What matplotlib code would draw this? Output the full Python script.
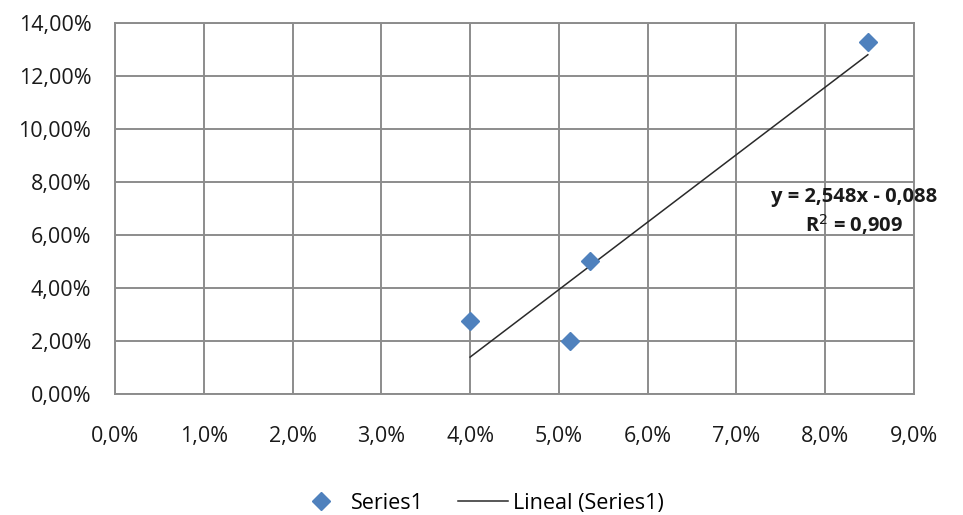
import numpy as np
import matplotlib.pyplot as plt
from matplotlib.ticker import FuncFormatter

# data (fractions)
x_vals = [0.0400, 0.0512, 0.0535, 0.0848]
y_vals = [0.0275, 0.0200, 0.0502, 0.1328]
slope = 2.548
intercept = -0.088
eq_label = 'y = 2,548x - 0,088\nR$^{2}$ = 0,909'
series_name = 'Series1'
trend_name = 'Lineal (Series1)'


def main():
    plt.rcParams['font.family'] = ['Open Sans', 'DejaVu Sans']
    fig = plt.figure(figsize=(9.63, 5.15), dpi=100)
    ax = fig.add_axes([0.1194, 0.235, 0.8297, 0.720])

    ax.plot(x_vals, y_vals, linestyle='none', marker='D', markersize=9.5,
            color='#4f81bd', label=series_name, zorder=3)
    xs = np.array([min(x_vals), max(x_vals)])
    ax.plot(xs, slope * xs + intercept, color='#2a2a2a', linewidth=1.1,
            label=trend_name, zorder=2)

    ax.set_xlim(0, 0.09)
    ax.set_ylim(0, 0.14)
    ax.set_xticks(np.arange(0, 0.0901, 0.01))
    ax.set_yticks(np.arange(0, 0.1401, 0.02))
    ax.xaxis.set_major_formatter(FuncFormatter(lambda v, p: f'{v * 100:.1f}%'.replace('.', ',')))
    ax.yaxis.set_major_formatter(FuncFormatter(lambda v, p: f'{v * 100:.2f}%'.replace('.', ',')))
    ax.tick_params(length=0, labelsize=15.5, colors='#1a1a1a')
    ax.tick_params(axis='x', pad=23)
    ax.tick_params(axis='y', pad=17)
    ax.grid(True, color='#8c8c8c', linewidth=1.4)
    ax.set_axisbelow(True)
    for s in ax.spines.values():
        s.set_color('#8c8c8c')
        s.set_linewidth(1.4)

    ax.text(0.925, 0.49, eq_label, transform=ax.transAxes, ha='center', va='center',
            multialignment='center', fontsize=14.5, fontweight='bold',
            color='#1a1a1a', clip_on=False, linespacing=1.25)

    fig.legend(loc='center', bbox_to_anchor=(0.4985, 0.023), ncol=2, frameon=False,
               fontsize=15.5, handlelength=2.3, columnspacing=1.6, handletextpad=0.25)

    fig.savefig('out.png', dpi=100)


if __name__ == "__main__":
    main()
